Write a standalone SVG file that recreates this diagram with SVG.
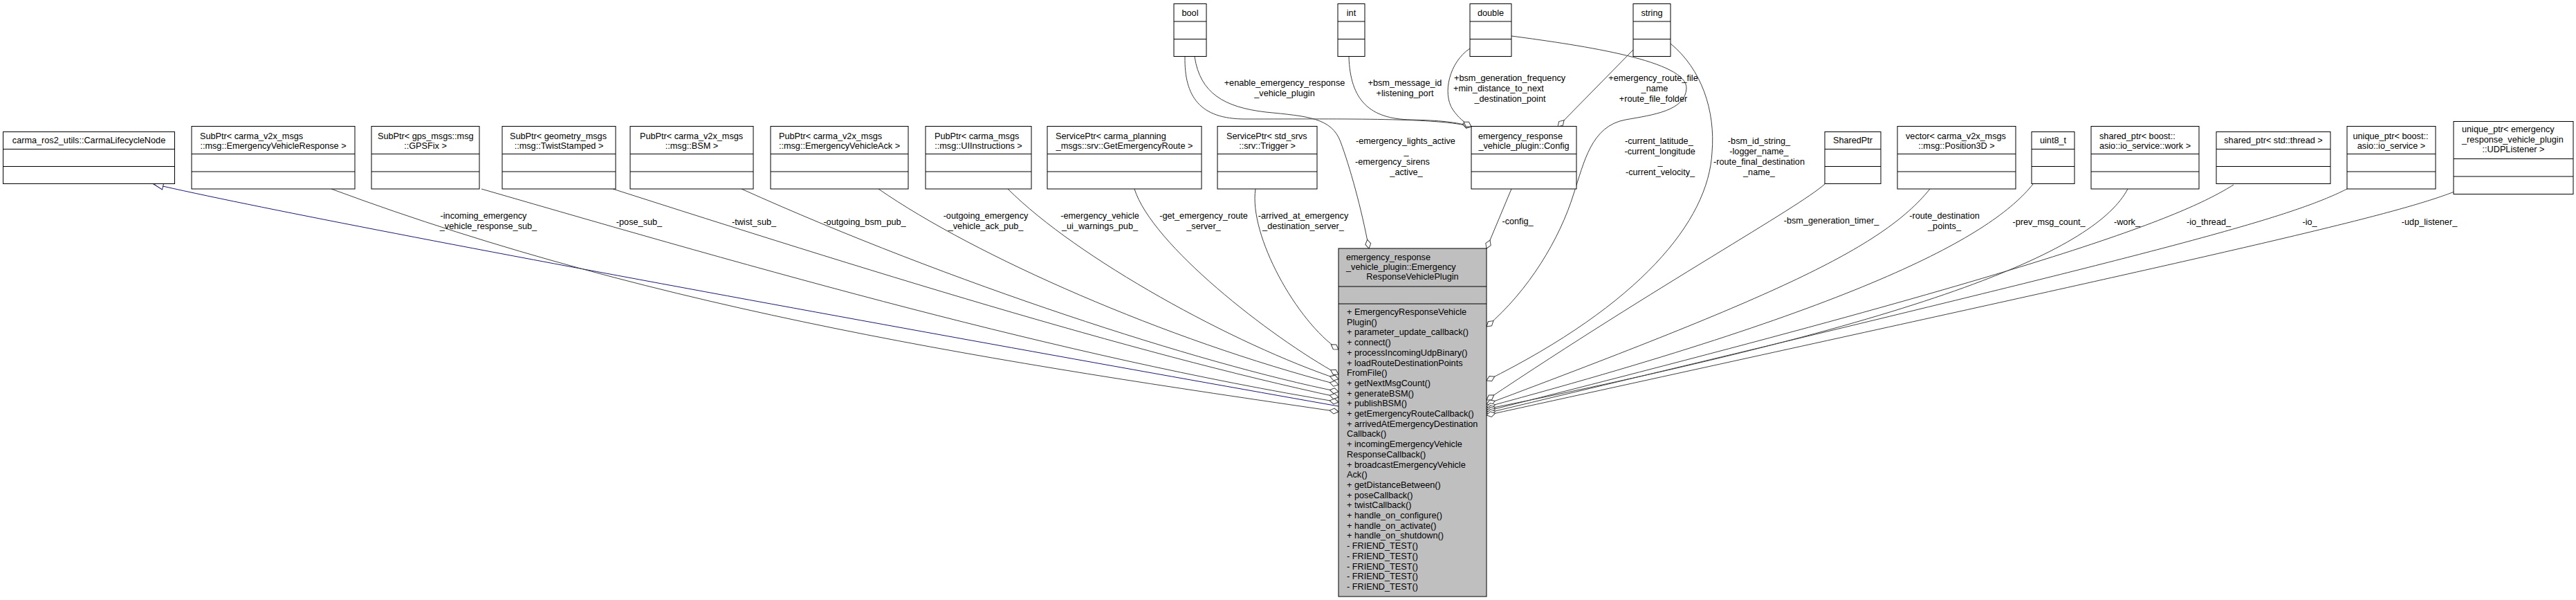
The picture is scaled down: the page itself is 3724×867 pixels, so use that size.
<svg xmlns="http://www.w3.org/2000/svg" width="3724" height="867" viewBox="0 0 3724 867">
<style>
text{font-family:"Liberation Sans",Arial,Helvetica,sans-serif;font-size:12.7px;fill:#000}
.c{text-anchor:middle}
.box{fill:#fff;stroke:#000;stroke-width:1}
.main{fill:#bfbfbf;stroke:#000;stroke-width:1}
.sep{fill:none;stroke:#000;stroke-width:1}
.e{fill:none;stroke:#404040;stroke-width:1;marker-end:url(#dia)}
.inh{fill:none;stroke:#191970;stroke-width:1;marker-end:url(#tri)}
</style>
<defs>
<marker id="dia" markerUnits="userSpaceOnUse" markerWidth="30" markerHeight="30" viewBox="-15 -15 30 30" refX="0" refY="0" orient="auto" overflow="visible"><path d="M0,0 L-6.5,-4 L-13,0 L-6.5,4 Z" fill="#fff" stroke="#404040" stroke-width="1"/></marker>
<marker id="tri" markerUnits="userSpaceOnUse" markerWidth="30" markerHeight="30" viewBox="-15 -15 30 30" refX="0" refY="0" orient="auto" overflow="visible"><path d="M0,0 L-14,-5 L-14,5 Z" fill="#fff" stroke="#191970" stroke-width="1"/></marker>
</defs>
<rect width="3724" height="867" fill="#fff"/>

<g id="connectors">
<path class="inh" d="M1935,587 C1500,510 500,330 222,266"/>
<path class="e" d="M479,273 C959,451 1455,525 1935,595"/>
<path class="e" d="M696,273 C1097,389 1535,515 1935,581"/>
<path class="e" d="M886,273 C1236,385 1635,510 1935,574"/>
<path class="e" d="M1072,273 C1372,408 1735,526 1935,566"/>
<path class="e" d="M1270,273 C1410,370 1685,491 1935,556"/>
<path class="e" d="M1457,273 C1557,373 1785,498 1935,548"/>
<path class="e" d="M1640,273 C1665,353 1835,486 1935,541"/>
<path class="e" d="M1815,273 C1805,340 1875,465 1935,505"/>
<path class="e" d="M1713,82 C1712,140 1735,172 1800,172 C1950,172 2080,170 2127,183"/>
<path class="e" d="M1727,82 C1735,135 1770,155 1830,162 C1890,168 1925,170 1938,205 C1951,240 1968,300 1979,359"/>
<path class="e" d="M1950,82 C1952,145 1980,172 2040,173 C2080,174 2105,176 2127,183"/>
<path class="e" d="M2125,70 C2095,90 2085,135 2100,158 C2108,170 2117,177 2127,183"/>
<path class="e" d="M2361,72 L2252,183"/>
<path class="e" d="M2185,273 L2149,359"/>
<path class="e" d="M2185,52 C2290,66 2440,88 2438,128 C2436,160 2390,166 2350,173 C2300,182 2290,235 2275,280 C2255,345 2210,420 2149,472"/>
<path class="e" d="M2415,63 C2460,100 2480,160 2475,220 C2470,320 2370,440 2149,550"/>
<path class="e" d="M2638,266 C2600,300 2400,410 2149,578"/>
<path class="e" d="M2790,273 C2720,360 2560,430 2149,584"/>
<path class="e" d="M2939,266 C2880,340 2700,440 2149,588"/>
<path class="e" d="M3076,273 C3030,360 2800,460 2149,591"/>
<path class="e" d="M3229,267 C3160,310 3000,380 2149,594"/>
<path class="e" d="M3393,273 C3300,320 3100,370 2149,597"/>
<path class="e" d="M3548,277 C3450,315 3200,370 2149,600"/>

<g id="edge-labels">
<text class="c" x="699" y="316">-incoming_emergency</text>
<text class="c" x="706" y="331">_vehicle_response_sub_</text>
<text class="c" x="924" y="325">-pose_sub_</text>
<text class="c" x="1090" y="325">-twist_sub_</text>
<text class="c" x="1250" y="325">-outgoing_bsm_pub_</text>
<text class="c" x="1425" y="316">-outgoing_emergency</text>
<text class="c" x="1425" y="331">_vehicle_ack_pub_</text>
<text class="c" x="1590" y="316">-emergency_vehicle</text>
<text class="c" x="1590" y="331">_ui_warnings_pub_</text>
<text class="c" x="1740" y="316">-get_emergency_route</text>
<text class="c" x="1740" y="331">_server_</text>
<text class="c" x="1884" y="316">-arrived_at_emergency</text>
<text class="c" x="1884" y="331">_destination_server_</text>
<text class="c" x="1857" y="124">+enable_emergency_response</text>
<text class="c" x="1857" y="139">_vehicle_plugin</text>
<text class="c" x="2031" y="124">+bsm_message_id</text>
<text class="c" x="2031" y="139">+listening_port</text>
<text x="2102" y="117">+bsm_generation_frequency</text>
<text x="2101" y="132">+min_distance_to_next</text>
<text class="c" x="2183" y="146.5">_destination_point</text>
<text class="c" x="2390" y="117">+emergency_route_file</text>
<text class="c" x="2392" y="132">_name</text>
<text class="c" x="2390" y="146.5">+route_file_folder</text>
<text x="1960" y="208">-emergency_lights_active</text>
<text class="c" x="2033" y="223">_</text>
<text x="1959" y="238">-emergency_sirens</text>
<text class="c" x="2033" y="253">_active_</text>
<text x="2349" y="208">-current_latitude_</text>
<text x="2348.5" y="223">-current_longitude</text>
<text class="c" x="2400" y="238">_</text>
<text class="c" x="2400" y="253">-current_velocity_</text>
<text class="c" x="2543" y="208">-bsm_id_string_</text>
<text class="c" x="2543" y="223">-logger_name_</text>
<text class="c" x="2543" y="238">-route_final_destination</text>
<text class="c" x="2543" y="253">_name_</text>
<text class="c" x="2194" y="324">-config_</text>
<text class="c" x="2647.5" y="323">-bsm_generation_timer_</text>
<text class="c" x="2811" y="316">-route_destination</text>
<text class="c" x="2811" y="331">_points_</text>
<text class="c" x="2962" y="325">-prev_msg_count_</text>
<text class="c" x="3075" y="325">-work_</text>
<text class="c" x="3193" y="325">-io_thread_</text>
<text class="c" x="3339" y="325">-io_</text>
<text class="c" x="3512" y="325">-udp_listener_</text>
</g>
</g>

<g id="n_main">
<rect class="main" x="1935" y="359" width="214" height="503"/>
<path class="sep" d="M1935,414 H2149 M1935,439 H2149"/>
<text x="1946" y="376">emergency_response</text>
<text x="1946" y="390">_vehicle_plugin::Emergency</text>
<text class="c" x="2042" y="404">ResponseVehiclePlugin</text>
<text x="1947" y="455"><tspan x="1947">+ EmergencyResponseVehicle</tspan><tspan x="1947" dy="14.7">Plugin()</tspan><tspan x="1947" dy="14.7">+ parameter_update_callback()</tspan><tspan x="1947" dy="14.7">+ connect()</tspan><tspan x="1947" dy="14.7">+ processIncomingUdpBinary()</tspan><tspan x="1947" dy="14.7">+ loadRouteDestinationPoints</tspan><tspan x="1947" dy="14.7">FromFile()</tspan><tspan x="1947" dy="14.7">+ getNextMsgCount()</tspan><tspan x="1947" dy="14.7">+ generateBSM()</tspan><tspan x="1947" dy="14.7">+ publishBSM()</tspan><tspan x="1947" dy="14.7">+ getEmergencyRouteCallback()</tspan><tspan x="1947" dy="14.7">+ arrivedAtEmergencyDestination</tspan><tspan x="1947" dy="14.7">Callback()</tspan><tspan x="1947" dy="14.7">+ incomingEmergencyVehicle</tspan><tspan x="1947" dy="14.7">ResponseCallback()</tspan><tspan x="1947" dy="14.7">+ broadcastEmergencyVehicle</tspan><tspan x="1947" dy="14.7">Ack()</tspan><tspan x="1947" dy="14.7">+ getDistanceBetween()</tspan><tspan x="1947" dy="14.7">+ poseCallback()</tspan><tspan x="1947" dy="14.7">+ twistCallback()</tspan><tspan x="1947" dy="14.7">+ handle_on_configure()</tspan><tspan x="1947" dy="14.7">+ handle_on_activate()</tspan><tspan x="1947" dy="14.7">+ handle_on_shutdown()</tspan><tspan x="1947" dy="14.7">- FRIEND_TEST()</tspan><tspan x="1947" dy="14.7">- FRIEND_TEST()</tspan><tspan x="1947" dy="14.7">- FRIEND_TEST()</tspan><tspan x="1947" dy="14.7">- FRIEND_TEST()</tspan><tspan x="1947" dy="14.7">- FRIEND_TEST()</tspan></text>
</g>

<g id="n_lifecycle">
<rect class="box" x="4.5" y="190.5" width="248" height="75"/>
<path class="sep" d="M4.5,215.5 H252.5 M4.5,240.5 H252.5"/>
<text class="c" x="128.5" y="207">carma_ros2_utils::CarmaLifecycleNode</text>
</g>
<g id="n_evr_sub">
<rect class="box" x="277" y="182.5" width="236" height="90.5"/>
<path class="sep" d="M277,222.5 H513 M277,248 H513"/>
<text x="289" y="201">SubPtr&lt; carma_v2x_msgs</text>
<text class="c" x="395" y="214.5">::msg::EmergencyVehicleResponse &gt;</text>
</g>
<g id="n_gps_sub">
<rect class="box" x="537" y="182.5" width="156" height="90.5"/>
<path class="sep" d="M537,222.5 H693 M537,248 H693"/>
<text x="546" y="201">SubPtr&lt; gps_msgs::msg</text>
<text class="c" x="615" y="214.5">::GPSFix &gt;</text>
</g>
<g id="n_twist_sub">
<rect class="box" x="726" y="182.5" width="164" height="90.5"/>
<path class="sep" d="M726,222.5 H890 M726,248 H890"/>
<text x="737" y="201">SubPtr&lt; geometry_msgs</text>
<text class="c" x="808" y="214.5">::msg::TwistStamped &gt;</text>
</g>
<g id="n_bsm_pub">
<rect class="box" x="911" y="182.5" width="178" height="90.5"/>
<path class="sep" d="M911,222.5 H1089 M911,248 H1089"/>
<text x="925" y="201">PubPtr&lt; carma_v2x_msgs</text>
<text class="c" x="1000" y="214.5">::msg::BSM &gt;</text>
</g>
<g id="n_ack_pub">
<rect class="box" x="1114" y="182.5" width="199" height="90.5"/>
<path class="sep" d="M1114,222.5 H1313 M1114,248 H1313"/>
<text x="1126" y="201">PubPtr&lt; carma_v2x_msgs</text>
<text class="c" x="1213.5" y="214.5">::msg::EmergencyVehicleAck &gt;</text>
</g>
<g id="n_ui_pub">
<rect class="box" x="1338" y="182.5" width="153" height="90.5"/>
<path class="sep" d="M1338,222.5 H1491 M1338,248 H1491"/>
<text x="1351" y="201">PubPtr&lt; carma_msgs</text>
<text class="c" x="1414.5" y="214.5">::msg::UIInstructions &gt;</text>
</g>
<g id="n_route_srv">
<rect class="box" x="1514" y="182.5" width="223" height="90.5"/>
<path class="sep" d="M1514,222.5 H1737 M1514,248 H1737"/>
<text x="1526" y="201">ServicePtr&lt; carma_planning</text>
<text class="c" x="1625.5" y="214.5">_msgs::srv::GetEmergencyRoute &gt;</text>
</g>
<g id="n_trigger_srv">
<rect class="box" x="1760" y="182.5" width="144" height="90.5"/>
<path class="sep" d="M1760,222.5 H1904 M1760,248 H1904"/>
<text x="1773" y="201">ServicePtr&lt; std_srvs</text>
<text class="c" x="1832" y="214.5">::srv::Trigger &gt;</text>
</g>
<g id="n_bool">
<rect class="box" x="1697" y="5.5" width="47" height="76"/>
<path class="sep" d="M1697,31 H1744 M1697,56.5 H1744"/>
<text class="c" x="1720.5" y="22.5">bool</text>
</g>
<g id="n_int">
<rect class="box" x="1934" y="5.5" width="39" height="76"/>
<path class="sep" d="M1934,31 H1973 M1934,56.5 H1973"/>
<text class="c" x="1953.5" y="22.5">int</text>
</g>
<g id="n_double">
<rect class="box" x="2125" y="5.5" width="60" height="76"/>
<path class="sep" d="M2125,31 H2185 M2125,56.5 H2185"/>
<text class="c" x="2155" y="22.5">double</text>
</g>
<g id="n_string">
<rect class="box" x="2361" y="5.5" width="54" height="76"/>
<path class="sep" d="M2361,31 H2415 M2361,56.5 H2415"/>
<text class="c" x="2388" y="22.5">string</text>
</g>
<g id="n_config">
<rect class="box" x="2127" y="182.5" width="152" height="90.5"/>
<path class="sep" d="M2127,222.5 H2279 M2127,248 H2279"/>
<text x="2137" y="201">emergency_response</text>
<text class="c" x="2203" y="214.5">_vehicle_plugin::Config</text>
</g>
<g id="n_sharedptr">
<rect class="box" x="2638" y="190.5" width="81" height="75"/>
<path class="sep" d="M2638,215.5 H2719 M2638,240.5 H2719"/>
<text class="c" x="2678.5" y="207">SharedPtr</text>
</g>
<g id="n_vector">
<rect class="box" x="2743" y="182.5" width="171" height="90.5"/>
<path class="sep" d="M2743,222.5 H2914 M2743,248 H2914"/>
<text x="2755" y="201">vector&lt; carma_v2x_msgs</text>
<text class="c" x="2828.5" y="214.5">::msg::Position3D &gt;</text>
</g>
<g id="n_uint8">
<rect class="box" x="2937" y="190.5" width="62" height="75"/>
<path class="sep" d="M2937,215.5 H2999 M2937,240.5 H2999"/>
<text class="c" x="2968" y="207">uint8_t</text>
</g>
<g id="n_work">
<rect class="box" x="3023" y="182.5" width="156" height="90.5"/>
<path class="sep" d="M3023,222.5 H3179 M3023,248 H3179"/>
<text x="3035" y="201">shared_ptr&lt; boost::</text>
<text class="c" x="3101" y="214.5">asio::io_service::work &gt;</text>
</g>
<g id="n_thread">
<rect class="box" x="3204" y="190.5" width="165" height="75"/>
<path class="sep" d="M3204,215.5 H3369 M3204,240.5 H3369"/>
<text class="c" x="3286.5" y="207">shared_ptr&lt; std::thread &gt;</text>
</g>
<g id="n_io">
<rect class="box" x="3393" y="182.5" width="128" height="90.5"/>
<path class="sep" d="M3393,222.5 H3521 M3393,248 H3521"/>
<text x="3401.5" y="201">unique_ptr&lt; boost::</text>
<text class="c" x="3457" y="214.5">asio::io_service &gt;</text>
</g>
<g id="n_udp">
<rect class="box" x="3547" y="175.5" width="173" height="105"/>
<path class="sep" d="M3547,229.5 H3720 M3547,255 H3720"/>
<text x="3559" y="191">unique_ptr&lt; emergency</text>
<text x="3559" y="205.5">_response_vehicle_plugin</text>
<text class="c" x="3633.5" y="220">::UDPListener &gt;</text>
</g>
</svg>
